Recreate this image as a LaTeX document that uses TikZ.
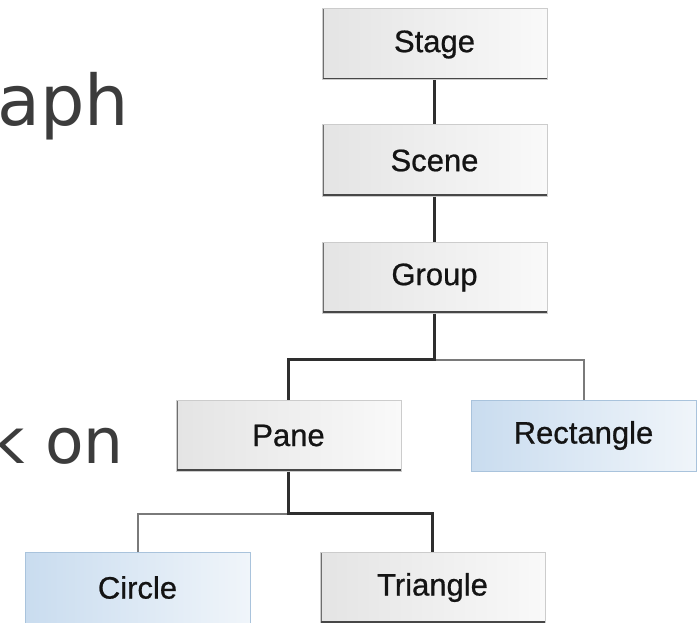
\documentclass[tikz,border=0pt]{standalone}
\usepackage{fontspec}
\setmainfont{Liberation Sans}
\newfontfamily\bodyfont{DejaVu Sans}
\newfontfamily\labelfont{Liberation Sans}[FakeBold=0.7]
\usetikzlibrary{calc}

\definecolor{boxgrayL}{HTML}{E4E4E4}
\definecolor{boxgrayR}{HTML}{F9F9F9}
\definecolor{boxgrayLine}{HTML}{CCCCCC}
\definecolor{boxblueL}{HTML}{C9DCEF}
\definecolor{boxblueR}{HTML}{F0F5FA}
\definecolor{boxblueLine}{HTML}{A9C3DC}
\definecolor{edgedark}{HTML}{474747}
\definecolor{edgemid}{HTML}{6E6E6E}
\definecolor{linkdark}{HTML}{2E2E2E}
\definecolor{linklight}{HTML}{7A7A7A}
\definecolor{bodytext}{HTML}{3C3C3C}

\tikzset{
  boxbase/.style={rectangle, minimum width=225pt, minimum height=71pt,
    inner sep=0pt, font=\labelfont\fontsize{31}{35}\selectfont, text=black!92, line width=1pt},
  nodebox/.style={boxbase,
    left color=boxgrayL, right color=boxgrayR, draw=boxgrayLine,
    path picture={
      \draw[edgemid, line width=4pt]
        (path picture bounding box.north west) -- (path picture bounding box.south west);
      \draw[edgedark, line width=4.5pt]
        (path picture bounding box.south west) -- (path picture bounding box.south east);}},
  leafbox/.style={boxbase,
    left color=boxblueL, right color=boxblueR, draw=boxblueLine},
  mainlink/.style={draw=linkdark, line width=3pt},
  sidelink/.style={draw=linklight, line width=2pt},
  bodyword/.style={text=bodytext, inner sep=0pt, anchor=base east}
}

\begin{document}
\begin{tikzpicture}[x=1pt, y=-1pt]
  \useasboundingbox (0,0) rectangle (699,623);
  \clip (0,0) rectangle (699,623);

  % words of the surrounding text, cut by the left margin
  \node[bodyword, font=\bodyfont\fontsize{70}{80}\selectfont] (w1) at (129,126) {aph};
  \node[bodyword, font=\bodyfont\fontsize{63}{72}\selectfont] (w2) at (124,463) {k on};

  % scene graph nodes
  \node[nodebox] (stage) at (434.5,44.5) {Stage};
  \node[nodebox] (scene) at (434.5,160.5) {Scene};
  \node[nodebox] (group) at (434.5,277.5) {Group};
  \node[nodebox] (pane)  at (288.5,435.5) {Pane};
  \node[leafbox] (rect)  at (583.5,435.5) {Rectangle};
  \node[leafbox] (circ)  at (137.5,587.5) {Circle};
  \node[nodebox] (tri)   at (432.5,587.5) {Triangle};

  % links between parents and children
  \draw[mainlink] (stage.south) -- (scene.north);
  \draw[mainlink] (scene.south) -- (group.north);
  \coordinate (bus1) at ($(group.south)+(0,46)$);
  \coordinate (bus2) at ($(pane.south)+(0,42)$);
  \draw[sidelink] (bus1) -| (rect.north);
  \draw[mainlink] (group.south) -- (bus1) -| (pane.north);
  \draw[sidelink] (bus2) -| (circ.north);
  \draw[mainlink] (pane.south) -- (bus2) -| (tri.north);
\end{tikzpicture}
\end{document}
